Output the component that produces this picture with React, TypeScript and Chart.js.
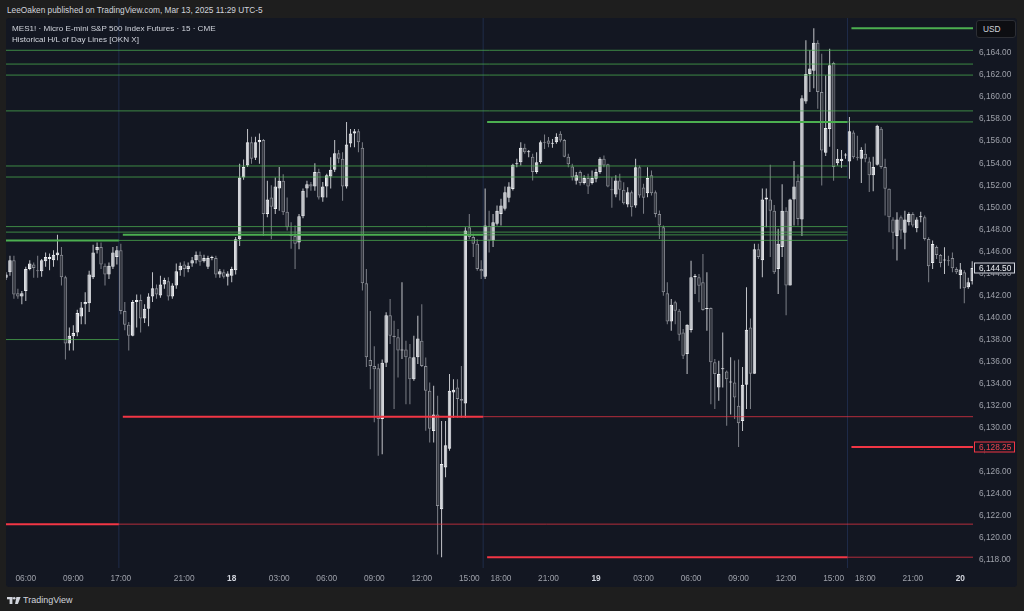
import React, { useEffect, useRef } from 'react';
import { Chart, registerables } from 'chart.js';

Chart.register(...registerables);

// ---------- DATA (MES1! 15-minute candles) ----------
const OPEN = [
  6143.6, 6144.1, 6145.2, 6142.2, 6141.9, 6142.4, 6144.4, 6144.8, 6144.3, 6144.2,
  6145.1, 6145.3, 6145.2, 6145.65, 6145.7, 6143.65, 6137.65, 6138.3, 6138.65, 6140.1,
  6141.2, 6141.3, 6143.65, 6146.1, 6146.4, 6144.7, 6143.9, 6144.6, 6145.5, 6146.1,
  6140.6, 6139.35, 6138.35, 6141.4, 6141.6, 6139.9, 6140.8, 6141.9, 6142.65, 6142.0,
  6143.0, 6143.3, 6141.9, 6142.9, 6144.3, 6144.8, 6144.4, 6144.9, 6145.2, 6145.7,
  6145.1, 6144.6, 6145.4, 6145.4, 6143.9, 6144.1, 6143.7, 6143.8, 6144.3, 6147.1,
  6152.7, 6153.8, 6155.9, 6154.5, 6155.9, 6156.1, 6149.4, 6150.9, 6149.85, 6151.7,
  6152.4, 6149.6, 6147.5, 6147.4, 6146.8, 6149.2, 6151.7, 6152.1, 6151.9, 6153.2,
  6150.9, 6151.9, 6152.8, 6153.4, 6154.9, 6154.4, 6151.9, 6155.8, 6156.7, 6156.9,
  6155.4, 6143.1, 6136.15, 6135.6, 6135.4, 6130.8, 6135.9, 6140.2, 6138.35, 6138.2,
  6137.0, 6137.1, 6136.4, 6134.4, 6136.4, 6137.9, 6135.6, 6133.35, 6129.7, 6131.2,
  6122.6, 6126.4, 6128.1, 6133.2, 6133.65, 6132.6, 6132.2, 6148.2, 6147.3, 6146.7,
  6144.4, 6143.7, 6148.3, 6147.0, 6148.5, 6149.4, 6149.86, 6150.86, 6151.67, 6153.9,
  6154.1, 6155.4, 6155.0, 6154.6, 6153.2, 6154.1, 6155.9, 6156.07, 6155.76, 6155.9,
  6156.67, 6156.1, 6154.6, 6153.7, 6152.4, 6153.2, 6152.2, 6152.65, 6152.2, 6152.6,
  6153.2, 6154.4, 6153.9, 6151.6, 6151.16, 6152.43, 6151.6, 6150.25, 6151.37, 6150.16,
  6153.64, 6151.8, 6151.28, 6152.9, 6151.37, 6149.4, 6148.19, 6142.2, 6139.65, 6141.38,
  6140.62, 6138.65, 6136.68, 6138.87, 6143.65, 6143.65, 6143.2, 6140.77, 6140.86, 6135.93,
  6133.65, 6135.3, 6135.1, 6134.1, 6134.1, 6132.0, 6130.6, 6133.9, 6139.1, 6134.9,
  6146.2, 6145.2, 6150.7, 6150.7, 6149.7, 6144.4, 6146.4, 6149.7, 6142.9, 6150.7,
  6152.4, 6148.9, 6159.6, 6162.1, 6162.4, 6164.94, 6160.46, 6154.95, 6157.1, 6163.1,
  6154.0, 6154.2, 6154.7, 6154.16, 6156.8, 6154.55, 6154.4, 6154.85, 6154.16, 6152.9,
  6153.86, 6157.13, 6153.65, 6151.68, 6148.9, 6147.4, 6149.1, 6147.7, 6148.65, 6149.4,
  6148.1, 6149.1, 6149.1, 6147.13, 6144.95, 6146.4, 6145.68, 6145.17, 6145.17, 6145.4,
  6144.4, 6143.86, 6144.1, 6142.75, 6143.3,
];

const HIGH = [
  6144.1, 6145.6, 6145.6, 6142.6, 6142.4, 6144.6, 6145.2, 6145.0, 6145.6, 6145.3,
  6145.9, 6145.8, 6146.1, 6147.5, 6146.4, 6143.8, 6139.1, 6139.3, 6140.7, 6141.4,
  6142.3, 6144.25, 6146.6, 6146.8, 6146.8, 6144.9, 6145.0, 6146.4, 6146.5, 6146.7,
  6141.4, 6139.6, 6141.6, 6142.1, 6142.1, 6141.2, 6142.2, 6144.1, 6143.0, 6143.8,
  6143.6, 6143.65, 6143.1, 6144.9, 6145.0, 6145.1, 6145.0, 6145.5, 6146.0, 6146.0,
  6145.7, 6145.6, 6145.6, 6145.6, 6144.4, 6144.35, 6144.2, 6144.6, 6147.3, 6153.95,
  6154.35, 6157.1, 6156.4, 6156.4, 6156.7, 6156.2, 6152.4, 6152.0, 6152.7, 6153.65,
  6153.0, 6150.9, 6148.65, 6148.35, 6149.4, 6151.7, 6152.4, 6152.3, 6154.0, 6153.5,
  6152.3, 6153.05, 6154.55, 6156.1, 6155.2, 6155.0, 6157.75, 6157.1, 6157.1, 6157.1,
  6155.9, 6144.4, 6140.6, 6137.4, 6135.8, 6136.2, 6140.47, 6141.68, 6139.7, 6138.96,
  6143.2, 6137.9, 6137.6, 6138.35, 6140.17, 6141.2, 6136.38, 6134.1, 6133.8, 6132.9,
  6130.6, 6130.6, 6134.87, 6134.4, 6134.4, 6135.6, 6148.2, 6149.4, 6147.6, 6147.1,
  6145.2, 6151.7, 6149.7, 6149.4, 6150.16, 6150.77, 6151.89, 6152.28, 6153.95, 6154.4,
  6155.9, 6155.76, 6155.2, 6154.86, 6155.0, 6156.07, 6156.6, 6156.37, 6156.2, 6156.73,
  6156.9, 6156.2, 6154.86, 6153.95, 6153.2, 6153.34, 6152.9, 6153.04, 6153.34, 6153.5,
  6154.55, 6154.7, 6153.95, 6152.74, 6152.9, 6153.04, 6152.28, 6151.83, 6151.52, 6154.4,
  6153.8, 6152.13, 6153.64, 6153.34, 6151.52, 6149.71, 6148.35, 6143.2, 6141.68, 6141.53,
  6140.77, 6138.96, 6139.4, 6145.16, 6143.95, 6143.95, 6145.77, 6144.1, 6140.92, 6136.23,
  6136.08, 6138.65, 6135.2, 6136.4, 6136.1, 6136.2, 6135.5, 6142.75, 6139.9, 6146.7,
  6146.7, 6151.7, 6151.7, 6153.86, 6150.2, 6148.05, 6152.1, 6150.0, 6150.77, 6154.2,
  6153.0, 6160.16, 6165.15, 6164.25, 6166.25, 6165.15, 6163.94, 6161.97, 6164.4, 6163.2,
  6155.3, 6155.2, 6154.9, 6158.2, 6156.98, 6156.5, 6155.46, 6155.8, 6154.55, 6154.6,
  6157.5, 6157.28, 6154.4, 6151.7, 6149.1, 6149.56, 6149.25, 6149.7, 6149.56, 6149.56,
  6149.1, 6149.6, 6149.25, 6147.28, 6146.98, 6146.53, 6145.77, 6146.38, 6145.6, 6145.9,
  6144.56, 6144.95, 6144.3, 6143.6, 6145.1,
];

const LOW = [
  6143.4, 6143.8, 6141.7, 6141.7, 6141.2, 6141.5, 6144.3, 6143.6, 6143.6, 6143.7,
  6144.6, 6144.3, 6144.6, 6145.2, 6142.9, 6136.2, 6137.0, 6137.0, 6138.3, 6139.4,
  6139.4, 6140.5, 6143.5, 6145.8, 6144.4, 6142.9, 6143.5, 6144.4, 6144.8, 6140.3,
  6138.85, 6137.0, 6138.3, 6139.1, 6138.65, 6139.5, 6139.2, 6141.4, 6141.7, 6141.8,
  6142.6, 6141.55, 6141.7, 6142.6, 6143.8, 6143.7, 6144.1, 6144.6, 6144.9, 6144.7,
  6145.0, 6144.4, 6145.2, 6143.6, 6143.6, 6143.55, 6142.9, 6143.2, 6143.9, 6146.5,
  6152.5, 6153.65, 6153.95, 6154.3, 6153.95, 6147.4, 6149.1, 6147.1, 6149.4, 6149.7,
  6149.3, 6147.9, 6146.25, 6144.4, 6146.2, 6149.0, 6150.9, 6151.5, 6151.5, 6150.7,
  6150.5, 6150.9, 6151.7, 6153.2, 6154.0, 6150.6, 6151.7, 6155.45, 6155.45, 6155.0,
  6142.45, 6135.5, 6133.5, 6130.5, 6127.45, 6127.6, 6135.5, 6137.6, 6131.7, 6134.56,
  6136.23, 6132.14, 6132.14, 6134.26, 6135.78, 6135.5, 6129.72, 6128.66, 6128.66, 6118.5,
  6118.25, 6125.5, 6127.9, 6130.9, 6130.9, 6130.9, 6130.9, 6147.1, 6145.5, 6144.25,
  6143.5, 6143.5, 6145.9, 6146.4, 6148.35, 6148.35, 6149.71, 6150.46, 6151.52, 6153.64,
  6153.8, 6154.86, 6154.55, 6152.43, 6153.04, 6153.95, 6155.3, 6155.46, 6155.4, 6155.76,
  6155.9, 6154.55, 6153.64, 6152.43, 6152.07, 6151.98, 6152.07, 6151.22, 6152.07, 6152.28,
  6153.04, 6153.64, 6151.83, 6149.95, 6150.92, 6150.62, 6150.25, 6150.01, 6149.16, 6149.95,
  6150.86, 6149.41, 6150.92, 6151.07, 6149.1, 6147.13, 6141.98, 6139.4, 6138.8, 6139.4,
  6137.9, 6136.23, 6134.87, 6138.65, 6142.14, 6141.38, 6140.62, 6138.8, 6132.14, 6131.7,
  6132.44, 6133.65, 6130.17, 6131.2, 6130.8, 6128.25, 6129.7, 6131.7, 6131.7, 6134.9,
  6145.3, 6143.65, 6148.2, 6145.5, 6143.95, 6142.14, 6145.5, 6140.2, 6142.9, 6148.35,
  6148.35, 6147.4, 6159.4, 6160.46, 6160.8, 6158.95, 6151.98, 6154.65, 6155.5, 6152.4,
  6153.8, 6153.6, 6154.4, 6152.6, 6154.4, 6154.25, 6152.2, 6154.1, 6151.4, 6151.45,
  6153.8, 6153.5, 6149.25, 6147.74, 6146.2, 6145.17, 6147.1, 6146.2, 6148.35, 6148.2,
  6147.74, 6148.65, 6146.98, 6143.2, 6144.4, 6145.3, 6144.56, 6143.95, 6144.7, 6144.1,
  6143.95, 6142.6, 6141.3, 6142.6, 6143.0,
];

const CLOSE = [
  6143.9, 6145.2, 6142.1, 6141.9, 6142.2, 6144.4, 6144.9, 6144.5, 6144.2, 6145.2,
  6145.5, 6145.5, 6145.7, 6145.9, 6143.65, 6137.65, 6138.35, 6138.6, 6140.4, 6140.9,
  6141.4, 6143.9, 6145.9, 6146.4, 6144.8, 6143.9, 6144.7, 6145.9, 6146.1, 6140.6,
  6139.35, 6138.35, 6141.4, 6141.6, 6139.9, 6140.8, 6141.9, 6142.65, 6142.1, 6143.0,
  6143.4, 6141.9, 6142.9, 6144.2, 6144.7, 6144.4, 6144.7, 6145.2, 6145.7, 6145.05,
  6145.4, 6145.4, 6145.45, 6143.9, 6144.2, 6143.7, 6144.0, 6144.4, 6147.1, 6152.7,
  6153.65, 6155.9, 6154.4, 6155.9, 6156.1, 6149.4, 6150.7, 6150.05, 6151.9, 6152.4,
  6149.55, 6148.2, 6147.4, 6146.7, 6149.2, 6151.5, 6152.1, 6151.9, 6153.2, 6150.9,
  6151.9, 6152.9, 6153.4, 6154.9, 6154.4, 6151.9, 6155.7, 6156.7, 6156.9, 6155.9,
  6143.1, 6136.4, 6135.6, 6135.3, 6130.8, 6135.9, 6140.2, 6138.35, 6138.2, 6137.0,
  6137.05, 6136.4, 6134.4, 6136.4, 6138.1, 6135.6, 6133.35, 6129.9, 6131.2, 6122.9,
  6126.7, 6128.4, 6133.35, 6133.45, 6132.6, 6132.45, 6147.9, 6147.3, 6146.7, 6144.4,
  6144.2, 6148.35, 6147.0, 6148.65, 6149.7, 6150.16, 6151.37, 6151.89, 6153.86, 6153.95,
  6155.4, 6155.0, 6155.0, 6153.2, 6154.1, 6155.9, 6155.85, 6155.76, 6155.8, 6156.4,
  6156.07, 6154.6, 6153.9, 6152.74, 6152.9, 6152.2, 6152.65, 6151.9, 6152.65, 6153.2,
  6154.4, 6153.8, 6151.9, 6151.55, 6152.43, 6151.6, 6150.37, 6151.37, 6150.0, 6153.64,
  6151.07, 6150.86, 6152.67, 6151.28, 6149.4, 6148.35, 6142.29, 6139.65, 6141.17, 6140.62,
  6138.44, 6136.53, 6139.35, 6143.65, 6143.8, 6142.89, 6140.68, 6140.8, 6135.93, 6134.87,
  6134.87, 6135.35, 6134.4, 6134.15, 6132.75, 6130.4, 6133.9, 6138.9, 6134.9, 6146.2,
  6145.5, 6150.7, 6150.9, 6149.7, 6144.1, 6146.7, 6149.7, 6142.9, 6150.7, 6151.9,
  6148.95, 6159.9, 6162.1, 6162.6, 6164.94, 6160.46, 6155.16, 6157.2, 6162.9, 6153.65,
  6154.4, 6154.4, 6154.7, 6156.9, 6154.55, 6154.5, 6155.2, 6154.4, 6152.9, 6153.65,
  6157.4, 6153.65, 6151.68, 6149.1, 6147.7, 6148.9, 6147.9, 6148.9, 6149.4, 6148.35,
  6148.9, 6149.1, 6147.13, 6144.65, 6146.68, 6145.68, 6144.95, 6145.17, 6145.1, 6144.47,
  6144.1, 6144.35, 6142.65, 6143.2, 6144.5,
];

// Time axis labels (bar index where each label sits)
const TIME_TICK_BARS = [5, 17, 29, 45, 57, 69, 81, 93, 105, 117, 125, 137, 149, 161, 173, 185, 197, 209, 217, 229, 241];
const TIME_TICK_LABELS = ['06:00', '09:00', '17:00', '21:00', '18', '03:00', '06:00', '09:00', '12:00', '15:00', '18:00', '21:00', '19', '03:00', '06:00', '09:00', '12:00', '15:00', '18:00', '21:00', '20'];
const DAY_LABELS = ['18', '19', '20'];

// Price axis labels
const PRICE_TICKS = [6118, 6120, 6122, 6124, 6126, 6128, 6130, 6132, 6134, 6136, 6138, 6140, 6142, 6144, 6146, 6148, 6150, 6152, 6154, 6156, 6158, 6160, 6162, 6164];

// Session breaks (between bars)
const SESSION_BREAKS = [28.5, 120.5, 212.5];

// Historical day high lines: [price, fromBar, toBar, kind]
const HIGH_LEVELS: [number, number, number, string][] = [
  [6166.25, 213.5, 250, 'current'],
  [6164.25, -2, 250, 'extended'],
  [6163.0, -2, 250, 'extended'],
  [6162.0, -2, 250, 'extended'],
  [6158.75, -2, 250, 'extended'],
  [6157.75, 121.5, 212.5, 'current'],
  [6157.75, 212.5, 250, 'extended'],
  [6153.75, -2, 212.5, 'extended'],
  [6152.75, -2, 212.5, 'extended'],
  [6148.25, -2, 212.5, 'extended'],
  [6147.75, -2, 212.5, 'extended'],
  [6147.5, 29.5, 120.5, 'current'],
  [6147.5, 120.5, 212.5, 'extended'],
  [6147.0, -2, 28.5, 'current'],
  [6147.0, 28.5, 212.5, 'extended'],
  [6138.0, -2, 28.5, 'extended'],
];

// Historical day low lines: [price, fromBar, toBar, kind]
const LOW_LEVELS: [number, number, number, string][] = [
  [6131.0, 29.5, 120.5, 'current'],
  [6131.0, 120.5, 250, 'extended'],
  [6128.25, 213.5, 250, 'current'],
  [6121.25, -2, 28.5, 'current'],
  [6121.25, 28.5, 250, 'extended'],
  [6118.25, 121.5, 212.5, 'current'],
  [6118.25, 212.5, 250, 'extended'],
];

// ---------- STYLE ----------
const FONT = '"Liberation Sans", Arial, sans-serif';
const BG = '#131722';
const OUTER = '#1e1e1e';
const TEXT = '#d1d4dc';
const AXIS_TEXT = '#9ea1aa';
const UP_BODY = '#d3d5da';
const UP_BORDER = '#eef0f3';
const UP_WICK = '#c2c4c9';
const DN_BODY = '#33363e';
const DN_BORDER = '#8a8d95';
const DN_WICK = '#7c7f87';
const GREEN_CUR = '#4caf50';
const GREEN_EXT = 'rgba(76,175,80,0.75)';
const RED_CUR = '#f23645';
const RED_EXT = 'rgba(242,54,69,0.72)';
const SEP = '#1f2c4a';

const LAST = CLOSE.length - 1;

const fmtPrice = (v: number) =>
  v.toLocaleString('en-US', { minimumFractionDigits: 2, maximumFractionDigits: 2 });

const priceTags = {
  id: 'priceTags',
  afterDraw(chart: any) {
    const { ctx, chartArea, scales } = chart;
    const y = scales.y;
    const tags: { price: number; stroke: string; color: string }[] = [];
    LOW_LEVELS.forEach((l) => {
      if (l[3] === 'current' && l[2] >= LAST) tags.push({ price: l[0], stroke: RED_CUR, color: '#f0444f' });
    });
    tags.push({ price: CLOSE[LAST], stroke: TEXT, color: '#eceef2' });
    ctx.save();
    tags.forEach((t) => {
      const py = Math.round(y.getPixelForValue(t.price));
      const x0 = chartArea.right + 1;
      const w = 41;
      const h = 11;
      ctx.fillStyle = BG;
      ctx.fillRect(x0, py - h / 2, w, h);
      ctx.strokeStyle = t.stroke;
      ctx.lineWidth = 1;
      ctx.strokeRect(x0 + 0.5, py - h / 2 + 0.5, w - 1, h - 1);
      ctx.fillStyle = t.color;
      ctx.font = `8.3px ${FONT}`;
      ctx.textAlign = 'left';
      ctx.textBaseline = 'middle';
      ctx.fillText(fmtPrice(t.price), chartArea.right + 6, py + 0.5);
    });
    ctx.restore();
  },
};

export default function App() {
  const canvasRef = useRef<HTMLCanvasElement | null>(null);

  useEffect(() => {
    if (!canvasRef.current) return;
    const isUp = OPEN.map((o, i) => CLOSE[i] >= o);

    const levelSets: any[] = [];
    const addLevels = (levels: [number, number, number, string][], cur: string, ext: string) => {
      levels.forEach((l) => {
        levelSets.push({
          type: 'line',
          data: [{ x: l[1], y: l[0] }, { x: l[2], y: l[0] }],
          borderColor: l[3] === 'current' ? cur : ext,
          borderWidth: l[3] === 'current' ? 2 : 1,
          pointRadius: 0,
          fill: false,
          tension: 0,
          order: 0,
          clip: 0,
        });
      });
    };
    addLevels(HIGH_LEVELS, GREEN_CUR, GREEN_EXT);
    addLevels(LOW_LEVELS, RED_CUR, RED_EXT);

    const sepSets = SESSION_BREAKS.map((b) => ({
      type: 'line',
      data: [{ x: b, y: 6100 }, { x: b, y: 6200 }],
      borderColor: SEP,
      borderWidth: 1,
      pointRadius: 0,
      fill: false,
      order: 5,
      clip: 0,
    }));

    const chart = new Chart(canvasRef.current, {
      type: 'bar',
      data: {
        datasets: [
          ...levelSets,
          {
            type: 'bar',
            data: OPEN.map((o, i) => ({ x: i, y: [o, CLOSE[i]] })),
            backgroundColor: isUp.map((u) => (u ? UP_BODY : DN_BODY)),
            borderColor: isUp.map((u) => (u ? UP_BORDER : DN_BORDER)),
            borderWidth: 1,
            borderSkipped: false,
            barThickness: 3.5,
            minBarLength: 1,
            grouped: false,
            inflateAmount: 0,
            order: 1,
            clip: 0,
          },
          {
            type: 'bar',
            data: LOW.map((l, i) => ({ x: i, y: [l, HIGH[i]] })),
            backgroundColor: isUp.map((u) => (u ? UP_WICK : DN_WICK)),
            borderWidth: 0,
            barThickness: 1,
            minBarLength: 1,
            grouped: false,
            inflateAmount: 0,
            order: 2,
            clip: 0,
          },
          ...sepSets,
        ] as any,
      },
      options: {
        animation: false,
        responsive: false,
        events: [],
        layout: { padding: 0 },
        plugins: {
          legend: { display: false },
          tooltip: { enabled: false },
          title: { display: false },
        },
        scales: {
          x: {
            type: 'linear',
            min: 0,
            max: 244.2,
            offset: false,
            grid: { display: false, drawTicks: false },
            border: { display: false },
            afterBuildTicks: (s: any) => {
              s.ticks = TIME_TICK_BARS.map((v) => ({ value: v }));
            },
            afterFit: (s: any) => {
              s.height = 19;
              s.paddingLeft = 0;
              s.paddingRight = 0;
              s.paddingTop = 0;
              s.paddingBottom = 0;
            },
            ticks: {
              autoSkip: false,
              maxRotation: 0,
              minRotation: 0,
              padding: 6,
              callback: (v: any) => TIME_TICK_LABELS[TIME_TICK_BARS.indexOf(Number(v))],
              color: (c: any) => (DAY_LABELS.includes(TIME_TICK_LABELS[c.index]) ? TEXT : AXIS_TEXT),
              font: (c: any) => ({
                family: FONT,
                size: 8.3,
                weight: DAY_LABELS.includes(TIME_TICK_LABELS[c.index]) ? 'bold' : 'normal',
              }),
            },
          },
          y: {
            type: 'linear',
            position: 'right',
            min: 6117.27,
            max: 6167.18,
            grid: { display: false, drawTicks: false },
            border: { display: false },
            afterBuildTicks: (s: any) => {
              s.ticks = PRICE_TICKS.map((v) => ({ value: v }));
            },
            afterFit: (s: any) => {
              s.width = 44;
              s.paddingLeft = 0;
              s.paddingRight = 0;
              s.paddingTop = 0;
              s.paddingBottom = 0;
            },
            ticks: {
              padding: 6,
              color: AXIS_TEXT,
              font: { family: FONT, size: 8.3 },
              callback: (v: any) => fmtPrice(Number(v)),
            },
          },
        },
      } as any,
      plugins: [priceTags],
    });
    return () => chart.destroy();
  }, []);

  return (
    <div
      style={{
        position: 'fixed',
        left: 0,
        top: 0,
        width: 1024,
        height: 611,
        background: OUTER,
        fontFamily: FONT,
        overflow: 'hidden',
      }}
    >
      <div style={{ position: 'absolute', left: 7, top: 4, fontSize: 8.3, lineHeight: '12px', color: TEXT, whiteSpace: 'nowrap' }}>
        LeeOaken published on TradingView.com, Mar 13, 2025 11:29 UTC-5
      </div>
      <div
        style={{
          position: 'absolute',
          left: 6,
          top: 18,
          width: 1011,
          height: 569,
          background: BG,
          borderRadius: 3,
          overflow: 'hidden',
        }}
      >
        <canvas ref={canvasRef} width={1011} height={569} style={{ display: 'block', width: 1011, height: 569 }} />
        <div style={{ position: 'absolute', left: 6, top: 5, fontSize: 8.1, lineHeight: '11px', color: TEXT, whiteSpace: 'nowrap' }}>
          MES1! · Micro E-mini S&amp;P 500 Index Futures · 15 · CME
        </div>
        <div style={{ position: 'absolute', left: 6, top: 16, fontSize: 8.1, lineHeight: '11px', color: TEXT, whiteSpace: 'nowrap' }}>
          Historical H/L of Day Lines [OKN X]
        </div>
        <div
          style={{
            position: 'absolute',
            left: 970,
            top: 2,
            width: 40,
            height: 18,
            background: '#0d0e12',
            border: '1px solid #2c2e34',
            borderRadius: 3,
            boxSizing: 'border-box',
            color: TEXT,
            fontSize: 8.3,
            lineHeight: '16px',
            paddingLeft: 6,
          }}
        >
          USD
        </div>
      </div>
      <svg style={{ position: 'absolute', left: 7, top: 597 }} width={14} height={7} viewBox="0 0 14 7">
        <rect x={0} y={0} width={5.4} height={2.3} fill={TEXT} />
        <rect x={2.6} y={0} width={2.8} height={7} fill={TEXT} />
        <circle cx={7.2} cy={1.3} r={1.3} fill={TEXT} />
        <polygon points="9.4,0 13.6,0 10.9,7 8.1,7" fill={TEXT} />
      </svg>
      <div style={{ position: 'absolute', left: 23, top: 594, fontSize: 9, lineHeight: '12px', color: TEXT, whiteSpace: 'nowrap' }}>
        TradingView
      </div>
    </div>
  );
}
